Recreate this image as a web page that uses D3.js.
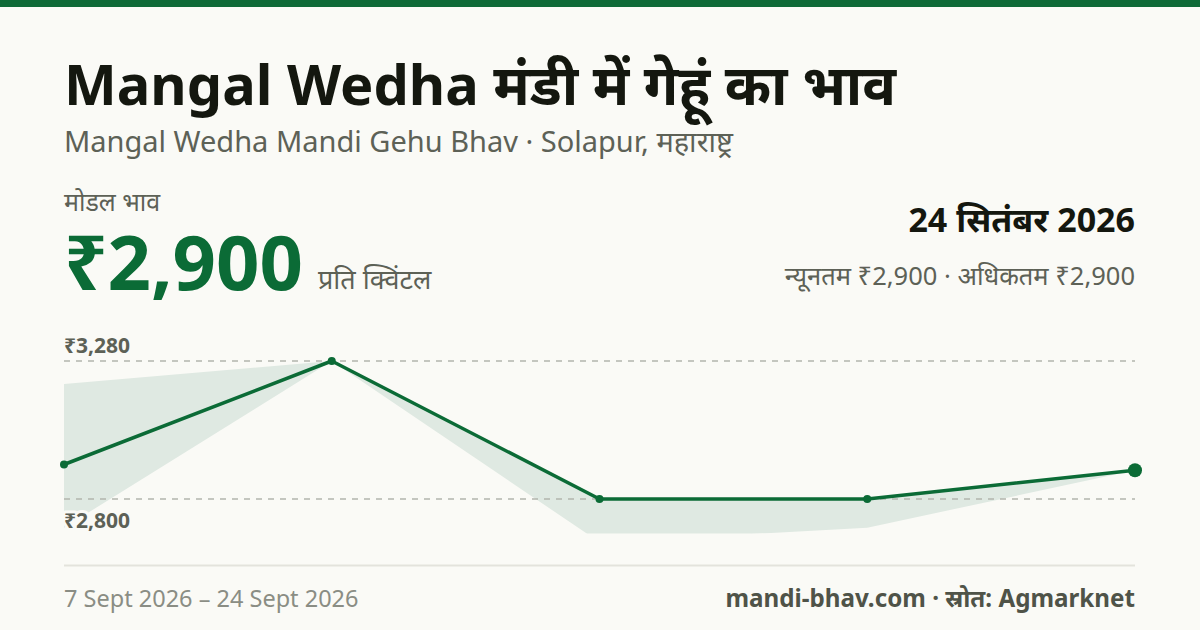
<!DOCTYPE html>
<html>
<head>
<meta charset="utf-8">
<script src="https://cdn.jsdelivr.net/npm/d3@7"></script>
<style>
  html, body { margin: 0; padding: 0; background: #fafaf6; }
  svg { display: block; font-family: "Noto Sans", "Noto Sans Devanagari", sans-serif; }
</style>
</head>
<body>
<svg id="chart" width="1200" height="630"></svg>
<script>
// ---- data ----
const dates = ["7 Sept", "11 Sept", "16 Sept", "20 Sept", "24 Sept"];
const modalPrices = [2920, 3280, 2800, 2800, 2900];
const minPrices = [2700, 3280, 2650, 2700, 2900];
const maxPrices = [3200, 3280, 2800, 2800, 2900];
const titleText = "Mangal Wedha मंडी में गेहूं का भाव";
const subtitleText = "Mangal Wedha Mandi Gehu Bhav · Solapur, महाराष्ट्र";
const modalLabel = "मोडल भाव";
const latestModal = "₹2,900";
const unitText = "प्रति क्विंटल";
const latestDate = "24 सितंबर 2026";
const rangeText = "न्यूनतम ₹2,900 · अधिकतम ₹2,900";
const periodText = "7 Sept 2026 – 24 Sept 2026";
const sourceText = "mandi-bhav.com · स्रोत: Agmarknet";

const svg = d3.select("#chart");
const W = 1200, H = 630;
const green = "#0b6b36";
const muted = "#5d6156";

svg.append("rect").attr("width", W).attr("height", H).attr("fill", "#fafaf6");
svg.append("rect").attr("width", W).attr("height", 7).attr("fill", "#0f6a37");

// header texts
svg.append("text").attr("x", 64).attr("y", 105).attr("font-size", 56).attr("font-weight", 700)
  .attr("fill", "#14170f").text(titleText);
svg.append("text").attr("x", 64).attr("y", 152).attr("font-size", 29)
  .attr("fill", muted).text(subtitleText);
svg.append("text").attr("x", 64).attr("y", 211).attr("font-size", 25)
  .attr("fill", muted).text(modalLabel);
svg.append("text").attr("x", 64).attr("y", 290).attr("font-size", 76).attr("font-weight", 700)
  .attr("fill", green).text(latestModal);
svg.append("text").attr("x", 318).attr("y", 289).attr("font-size", 27)
  .attr("fill", muted).text(unitText);
svg.append("text").attr("x", 1135).attr("y", 232).attr("font-size", 34).attr("font-weight", 700)
  .attr("text-anchor", "end").attr("fill", "#14170f").text(latestDate);
svg.append("text").attr("x", 1135).attr("y", 285).attr("font-size", 25.5)
  .attr("text-anchor", "end").attr("fill", muted).text(rangeText);

// ---- chart ----
const x = d3.scalePoint().domain(dates).range([64, 1135]);
const ext = d3.extent(modalPrices);
const pad = (ext[1] - ext[0]) * 0.25;
const y = d3.scaleLinear().domain([ext[0] - pad, ext[1] + pad]).range([533.5, 326.5]);

const rows = dates.map((d, i) => ({ d, modal: modalPrices[i], min: minPrices[i], max: maxPrices[i] }));

svg.append("clipPath").attr("id", "plotclip").append("rect")
  .attr("x", 0).attr("y", y.range()[1]).attr("width", W).attr("height", y.range()[0] - y.range()[1]);

svg.append("path").datum(rows)
  .attr("clip-path", "url(#plotclip)")
  .attr("fill", "#dfe9e2")
  .attr("d", d3.area().x(r => x(r.d)).y0(r => y(r.min)).y1(r => y(r.max)));

// reference lines at max and min modal
const refVals = [ext[1], ext[0]];
svg.selectAll("line.ref").data(refVals).enter().append("line")
  .attr("x1", 64).attr("x2", 1135)
  .attr("y1", v => y(v)).attr("y2", v => y(v))
  .attr("stroke", "#b3b5ad").attr("stroke-width", 1.3).attr("stroke-dasharray", "6,6");

const fmt = v => "₹" + d3.format(",")(v);
svg.selectAll("text.ref").data(refVals).enter().append("text")
  .attr("x", 64)
  .attr("y", (v, i) => i === 0 ? y(v) - 8 : y(v) + 29)
  .attr("font-size", 21).attr("font-weight", 700).attr("fill", muted)
  .attr("stroke", "#fafaf6").attr("stroke-width", 6).attr("paint-order", "stroke")
  .attr("stroke-linejoin", "round")
  .text(fmt);

svg.append("path").datum(rows)
  .attr("fill", "none").attr("stroke", green).attr("stroke-width", 3.5)
  .attr("stroke-linejoin", "round")
  .attr("d", d3.line().x(r => x(r.d)).y(r => y(r.modal)));

svg.selectAll("circle.pt").data(rows).enter().append("circle")
  .attr("cx", r => x(r.d)).attr("cy", r => y(r.modal))
  .attr("r", (r, i) => i === rows.length - 1 ? 7 : 4)
  .attr("fill", green);

// baseline and footer
svg.append("line").attr("x1", 64).attr("x2", 1135).attr("y1", 565.5).attr("y2", 565.5)
  .attr("stroke", "#e3e3dc").attr("stroke-width", 2);
svg.append("text").attr("x", 64).attr("y", 607).attr("font-size", 23.5)
  .attr("fill", "#8a8d84").text(periodText);
svg.append("text").attr("x", 1135).attr("y", 607).attr("font-size", 24.2).attr("font-weight", 700)
  .attr("text-anchor", "end").attr("fill", "#4f5348").text(sourceText);
</script>
</body>
</html>
